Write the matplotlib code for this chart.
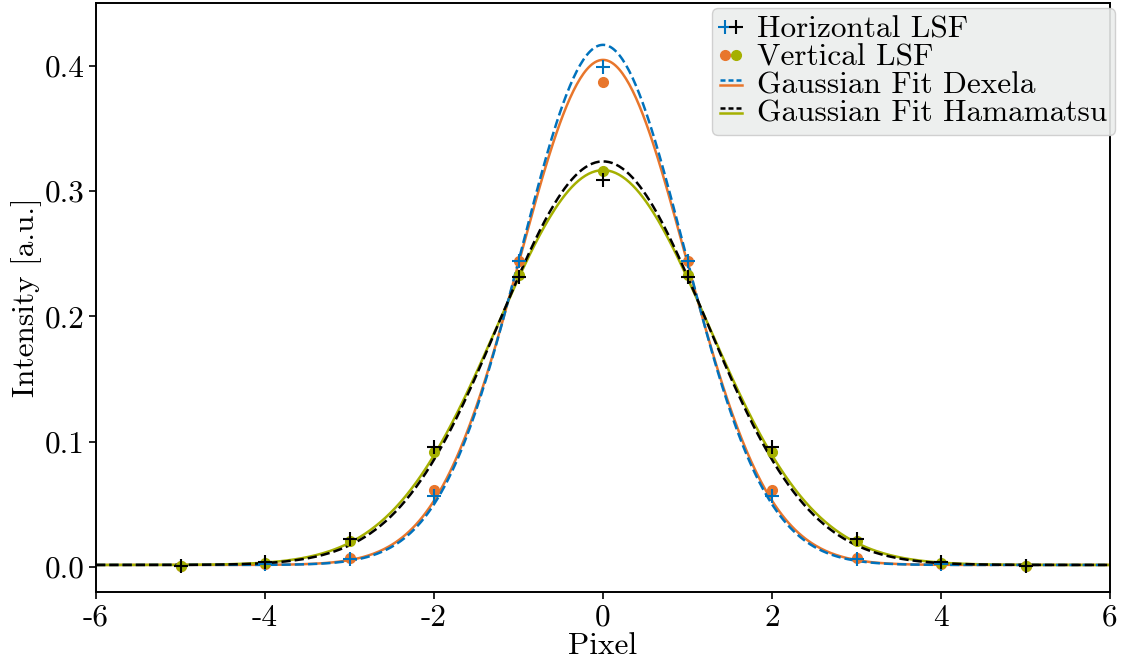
import numpy as np
import matplotlib
matplotlib.use("Agg")
import matplotlib.pyplot as plt
from matplotlib.lines import Line2D
from matplotlib.legend_handler import HandlerBase, HandlerTuple

plt.rcParams['font.family'] = 'serif'
plt.rcParams['font.serif'] = ['cmr10']
plt.rcParams['mathtext.fontset'] = 'cm'
plt.rcParams['axes.unicode_minus'] = False
plt.rcParams['axes.formatter.use_mathtext'] = True
plt.rcParams['font.size'] = 22.5

# measured LSF values per pixel
pixels = np.array([-5, -4, -3, -2, -1, 0, 1, 2, 3, 4, 5])
dexela_h = [0.001, 0.002, 0.006, 0.057, 0.244, 0.399, 0.244, 0.057, 0.006, 0.002, 0.001]
dexela_v = [0.001, 0.002, 0.007, 0.0615, 0.244, 0.387, 0.244, 0.0615, 0.007, 0.002, 0.001]
hama_h = [0.001, 0.004, 0.022, 0.096, 0.231, 0.309, 0.231, 0.096, 0.022, 0.004, 0.001]
hama_v = [0.001, 0.003, 0.021, 0.092, 0.233, 0.316, 0.233, 0.092, 0.021, 0.003, 0.001]

# gaussian fit parameters: amplitude, sigma, offset
fit_dexela_h = (0.415, 0.965, 0.0016)
fit_dexela_v = (0.403, 0.985, 0.0016)
fit_hama_h = (0.322, 1.22, 0.0016)
fit_hama_v = (0.315, 1.25, 0.0016)

blue = '#0072BD'
orange = '#E8762C'
green = '#A5B000'


def gauss(x, a, s, c):
    return a * np.exp(-x**2 / (2 * s**2)) + c


class FitPair(tuple):
    pass


class StackedLines(HandlerBase):
    # draws the lines of a pair one above the other, close together
    def create_artists(self, legend, orig_handle, xdescent, ydescent,
                       width, height, fontsize, trans):
        artists = []
        for i, h in enumerate(orig_handle):
            y = height / 2 + 2.0 - 4.0 * i - ydescent
            ln = Line2D([-xdescent, width - xdescent], [y, y],
                        color=h.get_color(), linestyle='-',
                        linewidth=h.get_linewidth())
            if h.get_linestyle() == '--':
                ln.set_dashes((2.0, 1.2))
            ln.set_transform(trans)
            artists.append(ln)
        return artists


fig = plt.figure(figsize=(11.26, 6.64), dpi=100)
ax = fig.add_axes([0.0853, 0.1084, 0.9005, 0.8871])

x = np.linspace(-6, 6, 600)
l_dv, = ax.plot(x, gauss(x, *fit_dexela_v), color=orange, lw=1.8)
l_hv, = ax.plot(x, gauss(x, *fit_hama_v), color=green, lw=1.8)
l_dh, = ax.plot(x, gauss(x, *fit_dexela_h), color=blue, lw=1.8, ls='--')
l_hh, = ax.plot(x, gauss(x, *fit_hama_h), color='black', lw=1.8, ls='--')

p_dv, = ax.plot(pixels, dexela_v, 'o', color=orange, ms=7)
p_hv, = ax.plot(pixels, hama_v, 'o', color=green, ms=7)
p_dh, = ax.plot(pixels, dexela_h, '+', color=blue, ms=10, mew=1.5)
p_hh, = ax.plot(pixels, hama_h, '+', color='black', ms=10, mew=1.5)

ax.set_xlim(-6, 6)
ax.set_ylim(-0.02, 0.45)
xt = [-6, -4, -2, 0, 2, 4, 6]
ax.set_xticks(xt)
ax.set_xticklabels([str(v) for v in xt])
yt = [0.0, 0.1, 0.2, 0.3, 0.4]
ax.set_yticks(yt)
ax.set_yticklabels([f'{v:.1f}' for v in yt])
ax.tick_params(direction='out', length=5, width=1.2)
for sp in ax.spines.values():
    sp.set_linewidth(1.4)

ax.set_xlabel('Pixel', labelpad=0)
ax.set_ylabel('Intensity [a.u.]', labelpad=2)

leg = ax.legend([(p_dh, p_hh), (p_dv, p_hv), FitPair((l_dh, l_dv)), FitPair((l_hh, l_hv))],
                ['Horizontal LSF', 'Vertical LSF', 'Gaussian Fit Dexela',
                 'Gaussian Fit Hamamatsu'],
                handler_map={FitPair: StackedLines(),
                             tuple: HandlerTuple(ndivide=None, pad=0.0)},
                loc='upper left', bbox_to_anchor=(712 / 1126, 1 - 8 / 664),
                bbox_transform=fig.transFigure, borderaxespad=0.0,
                handlelength=0.7, handletextpad=0.5, labelspacing=0.0,
                borderpad=0.25, fancybox=True,
                facecolor='#eceeed', edgecolor='#cccccc', framealpha=0.9)

fig.savefig('out.png', dpi=100)
